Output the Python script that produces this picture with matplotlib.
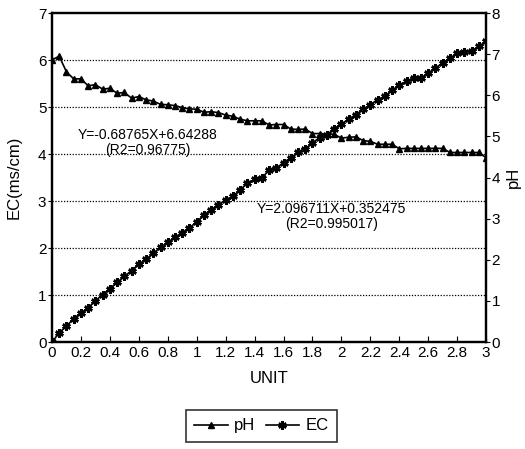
import matplotlib
matplotlib.use("Agg")
import matplotlib.pyplot as plt

plt.rcParams['font.family'] = ['Liberation Sans', 'DejaVu Sans']

# sampling points on the UNIT axis
unit = [0.00, 0.05, 0.10, 0.15, 0.20, 0.25, 0.30, 0.35, 0.40, 0.45,
        0.50, 0.55, 0.60, 0.65, 0.70, 0.75, 0.80, 0.85, 0.90, 0.95,
        1.00, 1.05, 1.10, 1.15, 1.20, 1.25, 1.30, 1.35, 1.40, 1.45,
        1.50, 1.55, 1.60, 1.65, 1.70, 1.75, 1.80, 1.85, 1.90, 1.95,
        2.00, 2.05, 2.10, 2.15, 2.20, 2.25, 2.30, 2.35, 2.40, 2.45,
        2.50, 2.55, 2.60, 2.65, 2.70, 2.75, 2.80, 2.85, 2.90, 2.95,
        3.00]

# EC (ms/cm), left axis
ec = [0.00, 0.20, 0.34, 0.50, 0.62, 0.73, 0.88, 1.01, 1.14, 1.27,
      1.40, 1.52, 1.66, 1.76, 1.89, 2.02, 2.12, 2.23, 2.33, 2.43,
      2.56, 2.70, 2.82, 2.92, 3.03, 3.10, 3.24, 3.38, 3.46, 3.49,
      3.66, 3.70, 3.82, 3.92, 4.04, 4.11, 4.24, 4.35, 4.41, 4.54,
      4.64, 4.74, 4.84, 4.95, 5.05, 5.16, 5.23, 5.36, 5.46, 5.55,
      5.61, 5.62, 5.72, 5.83, 5.94, 6.04, 6.14, 6.18, 6.20, 6.29,
      6.40]

# pH, right axis
ph = [6.86, 6.95, 6.57, 6.40, 6.40, 6.23, 6.26, 6.15, 6.17, 6.05,
      6.07, 5.93, 5.97, 5.89, 5.86, 5.78, 5.77, 5.75, 5.70, 5.67,
      5.66, 5.59, 5.60, 5.58, 5.52, 5.49, 5.42, 5.38, 5.38, 5.38,
      5.28, 5.29, 5.29, 5.18, 5.17, 5.18, 5.07, 5.07, 5.06, 5.05,
      4.96, 4.98, 4.99, 4.90, 4.88, 4.81, 4.81, 4.81, 4.70, 4.71,
      4.71, 4.71, 4.71, 4.71, 4.71, 4.61, 4.61, 4.61, 4.61, 4.61,
      4.48]

x_ticks = [0, 0.2, 0.4, 0.6, 0.8, 1, 1.2, 1.4, 1.6, 1.8, 2, 2.2, 2.4, 2.6, 2.8, 3]
x_tick_labels = ["0", "0.2", "0.4", "0.6", "0.8", "1", "1.2", "1.4", "1.6",
                 "1.8", "2", "2.2", "2.4", "2.6", "2.8", "3"]

ph_fit = "Y=-0.68765X+6.64288\n(R2=0.96775)"
ec_fit = "Y=2.096711X+0.352475\n(R2=0.995017)"

fig = plt.figure(figsize=(5.25, 4.49), dpi=100)
ax = fig.add_axes([0.099, 0.238, 0.827, 0.733])
ax2 = ax.twinx()

# dotted grid on the EC axis
for g in range(1, 7):
    ax.axhline(g, color="black", linestyle=(0, (1, 1.3)), linewidth=0.9, zorder=1)

ln_ec, = ax.plot(unit, ec, color="black", marker=(6, 2, 0), markersize=6,
                 markeredgewidth=1.8, linewidth=1.2, label="EC", zorder=3)
ln_ph, = ax2.plot(unit, ph, color="black", marker="^", markersize=5,
                  linewidth=1.2, label="pH", zorder=3)

ax.set_xlim(0, 3)
ax.set_ylim(0, 7)
ax2.set_ylim(0, 8)
ax.set_xticks(x_ticks)
ax.set_xticklabels(x_tick_labels)
ax.set_yticks(range(0, 8))
ax2.set_yticks(range(0, 9))

ax.tick_params(axis="x", direction="in", length=4, labelsize=11, pad=3)
ax.tick_params(axis="y", direction="out", length=3, labelsize=11, pad=1)
ax2.tick_params(axis="y", direction="out", length=3, labelsize=11, pad=1)

for a in (ax, ax2):
    for sp in a.spines.values():
        sp.set_linewidth(1.6)

ax.set_xlabel("UNIT", fontsize=12, labelpad=8)
ax.set_ylabel("EC(ms/cm)", fontsize=12, labelpad=12)
ax2.set_ylabel("pH", fontsize=12, labelpad=4)

ax.text(0.66, 4.25, ph_fit, ha="center", va="center", fontsize=10, linespacing=1.1)
ax.text(1.93, 2.68, ec_fit, ha="center", va="center", fontsize=10, linespacing=1.1)

leg = fig.legend([ln_ph, ln_ec], ["pH", "EC"], loc="upper center",
                 bbox_to_anchor=(0.498, 1 - 410 / 449), borderaxespad=0,
                 ncol=2, fontsize=12, frameon=True, fancybox=False,
                 edgecolor="black", handlelength=2.0, handletextpad=0.4,
                 columnspacing=0.6, borderpad=0.5)
leg.get_frame().set_linewidth(1.2)

fig.savefig("out.png", dpi=100)
